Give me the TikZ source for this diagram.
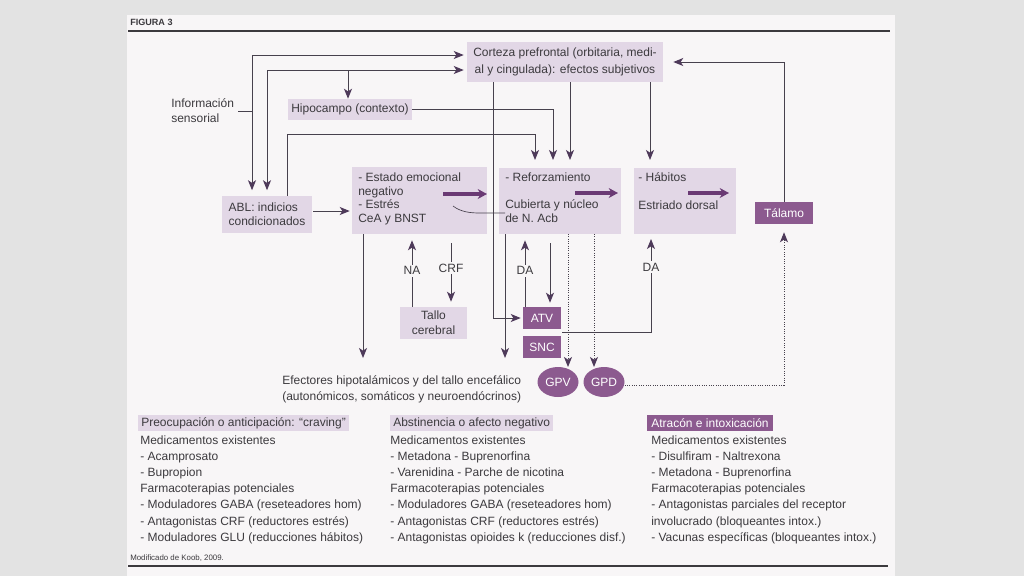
\documentclass[tikz,border=0pt]{standalone}
\usepackage{fontspec}
\setmainfont{Liberation Sans}
\usetikzlibrary{arrows.meta,shapes.geometric}
\definecolor{bggray}{HTML}{E3E3E3}
\definecolor{paper}{HTML}{F8F6F7}
\definecolor{lav}{HTML}{E2D7E6}
\definecolor{dpurp}{HTML}{8C5A8F}
\definecolor{apurp}{HTML}{6A3A74}
\definecolor{linec}{HTML}{47414D}
\definecolor{tipc}{HTML}{4E3A5A}
\definecolor{textc}{HTML}{3C3A3E}
\newdimen\pxu \pxu=0.75pt
\newcommand\myfs{\fontsize{9}{10.5}\selectfont}
\tikzset{
 lbox/.style={fill=lav, inner sep=0pt, text=textc, font=\myfs},
 dbox/.style={fill=dpurp, inner sep=0pt, text=white, font=\myfs},
 txt/.style={inner sep=0pt, text=textc, font=\myfs},
 ln/.style={draw=linec, line width=0.75pt},
 arr/.style={ln, -{Stealth[length=7.5pt,width=6pt,inset=2pt,color=tipc]}},
 dotarr/.style={arr, densely dotted},
 fat/.style={draw=apurp, line width=3pt, -{Stealth[length=7pt,width=7.5pt]}},
 lab/.style={fill=paper, inner sep=1.5pt, text=textc, font=\myfs},
}
\begin{document}
\begin{tikzpicture}[x=0.75pt,y=-0.75pt]
\fill[bggray] (0,0) rectangle (1024,576);
\useasboundingbox (0,0) rectangle (1024,576);
\fill[paper] (127,15) rectangle (895,576);
\node[font=\bfseries\fontsize{6.8}{8}\selectfont, text=textc, anchor=base west, inner sep=0pt] (fig) at (130,25) {FIGURA 3};
\draw[line width=1.5pt, textc] (128,31) -- (890,31);
\draw[line width=1.5pt, textc] (128,566) -- (888,566);

% boxes
\node[lbox, minimum width=196\pxu, minimum height=40\pxu, align=center, font=\fontsize{9}{12.5}\selectfont] (corteza) at (565,62) {Corteza prefrontal (orbitaria, medi-\\al y cingulada): efectos subjetivos};
\node[lbox, minimum width=124\pxu, minimum height=21\pxu] (hipocampo) at (350,109.5) {Hipocampo (contexto)};
\node[lbox, minimum width=90\pxu, minimum height=37\pxu, align=left, font=\fontsize{9}{10.5}\selectfont] (abl) at (267,214) {ABL: indicios\\condicionados};
\node[lbox, minimum width=135\pxu, minimum height=67\pxu] (estado) at (419.5,200.5) {};
\node[lbox, minimum width=122\pxu, minimum height=66\pxu] (reforz) at (560,201) {};
\node[lbox, minimum width=102\pxu, minimum height=66\pxu] (habitos) at (685,201) {};
\node[dbox, minimum width=58\pxu, minimum height=22\pxu] (talamo) at (784,213) {Tálamo};
\node[lbox, minimum width=67\pxu, minimum height=32\pxu, align=center, font=\fontsize{9}{11}\selectfont] (tallo) at (433.5,323) {Tallo\\cerebral};
\node[dbox, minimum width=38\pxu, minimum height=22\pxu] (atv) at (542,318) {ATV};
\node[dbox, minimum width=38\pxu, minimum height=22\pxu] (snc) at (542,347) {SNC};
\node[dbox, ellipse, minimum width=41\pxu, minimum height=30\pxu] (gpv) at (558,382) {GPV};
\node[dbox, ellipse, minimum width=41\pxu, minimum height=30\pxu] (gpd) at (604,382) {GPD};

% texts
\node[txt, anchor=north west, align=left, font=\fontsize{9}{11.2}\selectfont] (info) at (171,98.5) {Información\\sensorial};
\node[txt, anchor=north west, align=left, font=\fontsize{9}{10.3}\selectfont] (estadot) at (358,172.5) {- Estado emocional\\negativo\\- Estrés\\CeA y BNST};
\node[txt, anchor=north west, align=left, font=\fontsize{9}{10.3}\selectfont] (reforzt) at (505,172.5) {- Reforzamiento\\\mbox{}\\Cubierta y núcleo\\de N. Acb};
\node[txt, anchor=north west, align=left, font=\fontsize{9}{10.3}\selectfont] (habitost) at (638,172.5) {- Hábitos\\\mbox{}\\Estriado dorsal};
\node[txt, anchor=north west, align=left, font=\fontsize{9}{12}\selectfont] (efect) at (282,375.5) {Efectores hipotalámicos y del tallo encefálico\\(autonómicos, somáticos y neuroendócrinos)};

% fat arrows
\coordinate (fa1) at (443,194); \coordinate (fa2) at (487,194);
\coordinate (fb1) at (575,193); \coordinate (fb2) at (618,193);
\coordinate (fc1) at (688,193); \coordinate (fc2) at (729,193);
\draw[fat] (fa1) -- (fa2);
\draw[fat] (fb1) -- (fb2);
\draw[fat] (fc1) -- (fc2);

% curve
\coordinate (cv1) at (453,206); \coordinate (cv2) at (505,213);
\draw[ln, line width=0.5pt] (cv1) .. controls (461,212) and (470,213) .. (480,213) -- (cv2);

% junctions
\coordinate (j1) at (252,55);
\coordinate (j2) at (267,70);
\coordinate (j3) at (348,70);
\coordinate (j4) at (252,111);
\draw[ln] (info.east |- j4) ++(4\pxu,0) -- (j4);
\draw[arr, shorten >=3\pxu] (j1) -- (j1 -| corteza.west);
\draw[arr, shorten >=5\pxu] (j1) -- (j1 |- abl.north);
\draw[arr, shorten >=3\pxu] (j2) -- (j2 -| corteza.west);
\draw[arr, shorten >=5\pxu] (j2) -- (j2 |- abl.north);
\draw[arr] (j3) -- (j3 |- hipocampo.north);

\coordinate (r1) at (535,168);
\coordinate (r2) at (553,168);
\coordinate (r3) at (570,168);
\coordinate (a1) at (287,195.5);
\coordinate (a2) at (287,134);
\draw[arr, shorten >=8\pxu] (a1) -- (a2) -| (r1);
\draw[arr, shorten >=8\pxu] (hipocampo.east) -| (r2);
\draw[arr, shorten >=8\pxu] (r3 |- corteza.south) -- (r3);
\coordinate (h1) at (650,168);
\draw[arr, shorten >=8\pxu] (h1 |- corteza.south) -- (h1);
\coordinate (k1) at (493,82);
\draw[arr, shorten >=2\pxu] (k1) |- (atv.west);
\draw[arr, shorten >=10\pxu] (talamo.north) |- (corteza.east);
\coordinate (ab1) at (313,211);
\draw[arr, shorten >=2\pxu] (ab1) -- (ab1 -| estado.west);

% down to efectores
\coordinate (e1) at (363,234);
\coordinate (e2) at (505,234);
\coordinate (e1b) at (363,358);
\coordinate (e2b) at (505,358);
\draw[arr] (e1) -- (e1b);
\draw[arr] (e2) -- (e2b);

% NA / CRF
\coordinate (na) at (412,307);
\coordinate (crf) at (451,234);
\draw[arr, shorten >=6\pxu] (na) -- node[lab] {NA} (na |- estado.south);
\draw[arr, shorten >=5\pxu, shorten <=9\pxu] (crf) -- node[lab, pos=0.47] {CRF} (crf |- tallo.north);

% DA
\coordinate (da1) at (525,307);
\coordinate (da2) at (550,234);
\draw[arr, shorten >=6\pxu] (da1) -- node[lab] {DA} (da1 |- reforz.south);
\draw[arr, shorten >=4\pxu, shorten <=9\pxu] (da2) -- (da2 |- atv.north);
\coordinate (s1) at (562,332);
\coordinate (hb) at (651,234);
\draw[arr, shorten >=5\pxu] (s1) -| node[lab, pos=0.83] {DA} (hb);

% dotted
\coordinate (d1) at (568,234);
\coordinate (d2) at (594,234);
\coordinate (d1b) at (568,367);
\coordinate (d2b) at (594,367);
\draw[dotarr] (d1) -- (d1b);
\draw[dotarr] (d2) -- (d2b);
\draw[dotarr, shorten >=8\pxu] (gpd.east) ++(0,3) -| (talamo.south);

% bottom columns
\node[lbox, anchor=west, minimum height=16\pxu, inner xsep=3\pxu] (hd1) at (138,423) {Preocupación o anticipación: “craving”};
\node[lbox, anchor=west, minimum height=16\pxu, inner xsep=3\pxu] (hd2) at (390,423) {Abstinencia o afecto negativo};
\node[dbox, anchor=west, minimum height=16\pxu, inner xsep=4\pxu] (hd3) at (647,423) {Atracón e intoxicación};

\foreach \t [count=\i] in {{Medicamentos existentes},{- Acamprosato},{- Bupropion},{Farmacoterapias potenciales},{- Moduladores GABA (reseteadores hom)},{- Antagonistas CRF (reductores estrés)},{- Moduladores GLU (reducciones hábitos)}}
  \node[txt, anchor=base west] (ca\i) at (140,{444+16.2*(\i-1)}) {\t};
\foreach \t [count=\i] in {{Medicamentos existentes},{- Metadona - Buprenorfina},{- Varenidina - Parche de nicotina},{Farmacoterapias potenciales},{- Moduladores GABA (reseteadores hom)},{- Antagonistas CRF (reductores estrés)},{- Antagonistas opioides k (reducciones disf.)}}
  \node[txt, anchor=base west] (cb\i) at (390,{444+16.2*(\i-1)}) {\t};
\foreach \t [count=\i] in {{Medicamentos existentes},{- Disulfiram - Naltrexona},{- Metadona - Buprenorfina},{Farmacoterapias potenciales},{- Antagonistas parciales del receptor},{involucrado (bloqueantes intox.)},{- Vacunas específicas (bloqueantes intox.)}}
  \node[txt, anchor=base west] (cc\i) at (651,{444+16.2*(\i-1)}) {\t};

\node[txt, anchor=base west, font=\fontsize{5.9}{7}\selectfont] (src) at (130,560) {Modificado de Koob, 2009.};
\end{tikzpicture}
\end{document}
